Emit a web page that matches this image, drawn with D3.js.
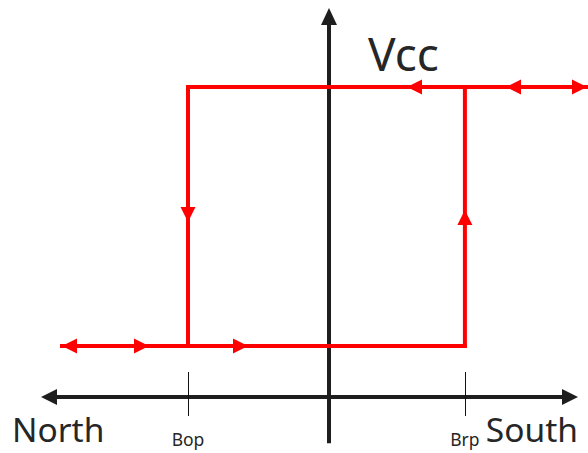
<!DOCTYPE html>
<html>
<head>
<meta charset="utf-8">
<script src="https://cdn.jsdelivr.net/npm/d3@7"></script>
<style>
  body { margin: 0; background: #fff; }
  svg { display: block; font-family: "Noto Sans", "Open Sans", sans-serif; }
</style>
</head>
<body>
<svg width="588" height="453"></svg>
<script>
// field values (arbitrary units, 0 = axis crossing)
const fieldAxis = [-96, 83];          // B axis from North to South
const outputAxis = [-0.375, 1.305];   // output axis bottom / top
const thresholds = [
  { name: "Bop", b: -47 },
  { name: "Brp", b: 45.3 }
];
const outLow = 0;
const outHigh = 1;
const lowEnd = -89;   // bottom line reaches left
const highEnd = 86;   // top line reaches right

// red loop segments [b0, out0, b1, out1]
const loopSegments = [
  [lowEnd, outLow, 45.3, outLow],
  [45.3, outLow, 45.3, outHigh],
  [highEnd, outHigh, -47, outHigh],
  [-47, outHigh, -47, outLow]
];

// arrowheads on the loop: tip position and direction
const arrows = [
  { b: -89, out: outLow, dir: "left" },
  { b: -60, out: outLow, dir: "right" },
  { b: -27, out: outLow, dir: "right" },
  { b: 26, out: outHigh, dir: "left" },
  { b: 59, out: outHigh, dir: "left" },
  { b: 86, out: outHigh, dir: "right" },
  { b: -47, out: 0.479, dir: "down" },
  { b: 45.3, out: 0.525, dir: "up" }
];

const svg = d3.select("svg");
const x = d3.scaleLinear().domain([-100, 100]).range([29, 629]);
const y = d3.scaleLinear().domain([0, 1]).range([346, 87]);

// arrowhead path with tip at (tx, ty)
function head(tx, ty, dir, len, half) {
  const d = { left: [1, 0], right: [-1, 0], up: [0, 1], down: [0, -1] }[dir];
  const bx = tx + d[0] * len, by = ty + d[1] * len;
  const px = -d[1] * half, py = d[0] * half;
  return `M${tx},${ty}L${bx + px},${by + py}L${bx - px},${by - py}Z`;
}

const black = "#1e1e1e";
const red = "#ff0000";
const yZero = y(-0.197);

// axes
svg.append("line")
  .attr("x1", x(fieldAxis[0]) + 10).attr("x2", x(fieldAxis[1]) - 10)
  .attr("y1", yZero).attr("y2", yZero)
  .attr("stroke", black).attr("stroke-width", 4);
svg.append("path").attr("d", head(x(fieldAxis[0]), yZero, "left", 16, 8)).attr("fill", black);
svg.append("path").attr("d", head(x(fieldAxis[1]), yZero, "right", 16, 8)).attr("fill", black);

svg.append("line")
  .attr("x1", x(0)).attr("x2", x(0))
  .attr("y1", y(outputAxis[0])).attr("y2", y(outputAxis[1]) + 10)
  .attr("stroke", black).attr("stroke-width", 4);
svg.append("path").attr("d", head(x(0), y(outputAxis[1]), "up", 17, 8)).attr("fill", black);

// threshold ticks and labels
thresholds.forEach(t => {
  const tx = Math.round(x(t.b)) + 0.5;
  svg.append("line")
    .attr("x1", tx).attr("x2", tx)
    .attr("y1", yZero - 25).attr("y2", yZero + 19)
    .attr("stroke", "#111").attr("stroke-width", 1);
  svg.append("text")
    .attr("x", x(t.b)).attr("y", 446)
    .attr("text-anchor", "middle")
    .attr("font-size", 17.5)
    .attr("fill", "#262626")
    .text(t.name);
});

// loop
svg.selectAll(".seg")
  .data(loopSegments)
  .enter()
  .append("line")
  .attr("class", "seg")
  .attr("x1", d => x(d[0])).attr("y1", d => y(d[1]))
  .attr("x2", d => x(d[2])).attr("y2", d => y(d[3]))
  .attr("stroke", red).attr("stroke-width", 4)
  .attr("stroke-linecap", "square");

svg.selectAll(".arrow")
  .data(arrows)
  .enter()
  .append("path")
  .attr("class", "arrow")
  .attr("d", d => head(x(d.b), y(d.out), d.dir, 15, 7.5))
  .attr("fill", red);

// axis labels
svg.append("text").attr("x", 12).attr("y", 442)
  .attr("font-size", 33.5).attr("fill", "#262626").text("North");
svg.append("text").attr("x", 578).attr("y", 442).attr("text-anchor", "end")
  .attr("font-size", 33.5).attr("fill", "#262626").text("South");
svg.append("text").attr("x", 368).attr("y", 71)
  .attr("font-size", 46).attr("fill", "#262626").text("Vcc");
</script>
</body>
</html>
